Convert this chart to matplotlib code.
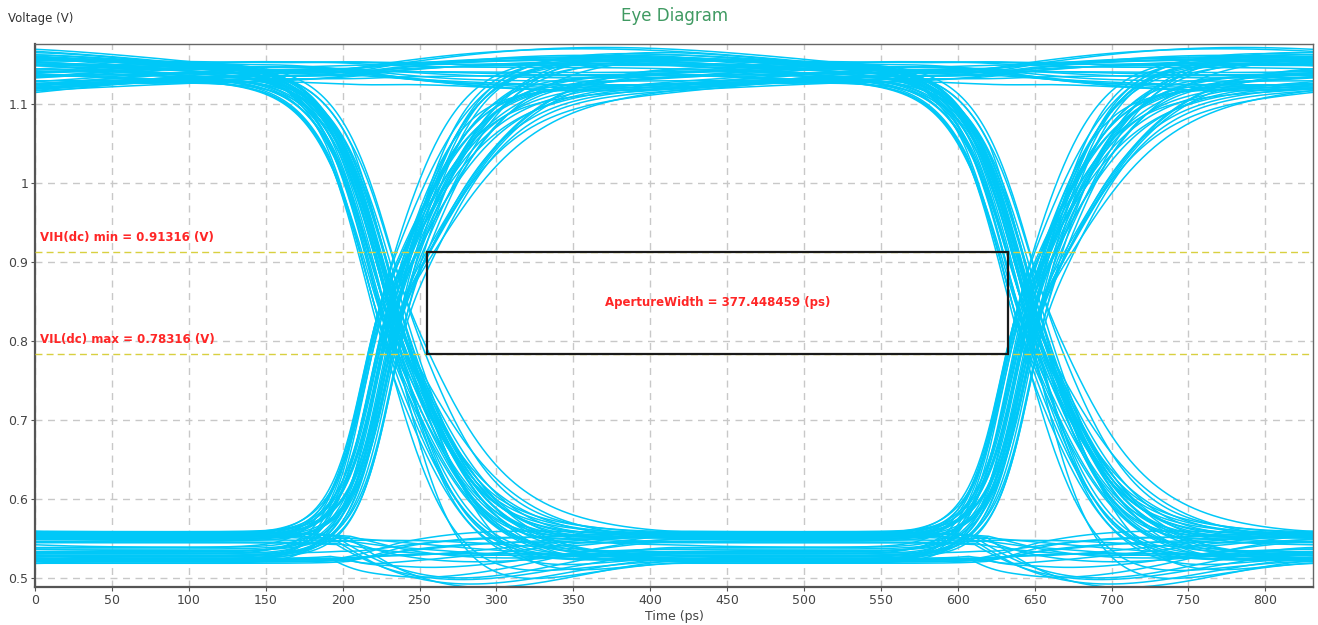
import numpy as np
import matplotlib.pyplot as plt
from matplotlib.patches import Rectangle

# constants

UI = 415.0          # ps, one bit
T_CROSS = 233.0     # first crossing inside the 2-UI window
T_SPAN = 831.0      # window shown on the x axis
V_HIGH = 1.141
V_LOW = 0.543
VIH_MIN = 0.91316
VIL_MAX = 0.78316
AP_START = 254.9
AP_WIDTH = 377.448459
TAU_RISE = 30.0     # ps, leading part of a rising edge
TAU_FALL = 42.0     # ps, leading part of a falling edge

# bit stream behind the eye, one value per bit

bits = [1, 0, 1, 1, 0, 0, 1, 0, 1, 1, 1, 0,
        1, 0, 0, 1, 1, 0, 1, 0, 0, 0, 1, 1,
        0, 1, 0, 1, 1, 0, 0, 1, 0, 1, 1, 0,
        1, 1, 0, 0, 1, 0, 0, 1, 1, 1, 0, 1,
        0, 0, 1, 1, 0, 1, 0, 1, 0, 0, 1, 1,
        0, 1, 1, 0, 0, 0, 1, 0, 1, 1, 0, 1,
        1, 0, 0, 1, 0, 1, 1, 1, 0, 0, 1, 0,
        0, 1, 1, 0, 1, 0, 0, 0, 1, 1, 0, 1,
        1, 1, 0, 1, 0, 0, 1, 1, 0, 0, 0, 1,
        0, 1, 0, 0, 1, 1, 0, 1, 1, 0, 1, 0]

# edge jitter (ps)
jitter = [3, -5, 7, -2, 0, 6, -8, 4, -3, 1, 8, -6,
          -1, 5, -7, 2, 9, -4, 0, -9, 6, -2, 3, -5,
          7, -3, 1, -8, 4, 2, -6, 8, -1, 5, -4, 0,
          -7, 6, -2, 3, -9, 1, 7, -5, 4, -3, 8, -1,
          2, -6, 5, 0, -4, 9, -2, 6, -8, 3, -1, 4,
          -5, 1, 8, -7, 2, -3, 6, 0, -6, 7, -2, 5,
          4, -7, 1, 6, -3, -9, 5, -1, 8, -4, 2, -6,
          -2, 9, -5, 3, -8, 0, 6, -3, 1, -7, 4, 7,
          5, -1, -6, 8, 2, -4, -9, 3, 7, -2, 0, -5,
          -8, 2, 6, -4, 5, -7, 1, 9, -3, 4, -6, 3]

# settling time after the crossing (ps)
tau_settle = [52, 61, 44, 70, 48, 57, 66, 42, 59, 74, 50, 63,
              46, 68, 55, 41, 72, 60, 49, 65, 53, 77, 45, 58,
              62, 43, 71, 56, 47, 67, 51, 75, 44, 64, 58, 49,
              69, 54, 42, 73, 60, 47, 66, 52, 78, 45, 57, 63,
              48, 71, 59, 44, 65, 53, 76, 50, 61, 42, 68, 55,
              57, 46, 74, 62, 51, 69, 43, 64, 55, 72, 49, 60,
              66, 45, 58, 79, 50, 62, 41, 70, 56, 47, 73, 53,
              44, 63, 76, 52, 68, 40, 59, 71, 48, 65, 54, 77,
              61, 49, 72, 43, 57, 80, 46, 66, 51, 74, 42, 60,
              55, 70, 47, 64, 78, 45, 58, 62, 41, 69, 52, 67]

# flat level offset per bit (mV), the low band is the wider one
level_mv = [4, -16, 9, -2, 14, -20, 2, 10, -10, 3, -5, 6,
            -8, 12, -18, 12, -9, 8, 9, -22, 2, -12, 0, 5,
            14, -3, -4, 6, 2, -20, 6, -2, -14, -6, 12, 10,
            2, 9, -20, 4, 8, 14, -10, 12, -2, 6, -24, 2,
            -18, 12, 6, -9, -8, 9, 4, -12, -22, 13, -6, 8,
            8, -2, -11, -20, 14, -6, 12, -16, -5, 9, 11, 6,
            -9, -22, 9, -5, -12, -13, 0, 11, 15, -4, 5, -18,
            -14, -12, -2, 12, -6, -24, 3, -9, 13, -3, 16, -9,
            -2, 8, -18, 3, 10, -21, 6, -9, 6, -11, 14, -11,
            -15, -3, 12, -19, 2, 11, 7, 3, -13, -23, -2, 10]

# ISI bump per bit (mV), deeper dips on a few low bits
bump_mv = [18, -12, 6, -22, 4, -40, -16, -6, -5, 10, -19, 8,
           -9, -30, 10, 4, 19, -8, 8, -14, 2, -36, 22, -6,
           12, -18, -22, 20, -10, -4, -42, 6, -9, -14, 3, -18,
           -20, 10, -3, -26, -17, 14, -11, -22, 16, 2, -38, 21,
           7, -16, 19, -3, -33, -18, -6, 9, 11, -24, -8, 2,
           -13, 14, -6, -40, 5, -20, 3, -9, -20, 22, 13, 11,
           25, -28, -5, -14, -12, 12, -24, 7, -2, -41, 16, -15,
           3, -11, 23, -19, 5, -35, 9, -7, -17, 8, -24, 19,
           -3, 21, -10, -20, -44, 4, 13, -12, -21, 10, -6, 24,
           -16, -23, -1, -37, 9, -15, -12, 26, -4, -27, 14, 8]


def edge_shape(x, tau_pre, tau_post):
    # fast start, slower settling after the crossing
    tau = tau_pre + (tau_post - tau_pre) * 0.5 * (1 + np.tanh(x / 15.0))
    return 0.5 * (1 + np.tanh(x / tau))


def bump_shape(t, start, stop, a, b):
    u = np.clip((t - start) / (stop - start), 0, 1)
    g = u ** a * (1 - u) ** b
    peak = (a / (a + b)) ** a * (b / (a + b)) ** b
    return g / peak


def build_waveform(t):
    n = len(bits)
    levels = [(V_HIGH if bits[k] else V_LOW) + level_mv[k] * 1e-3 for k in range(n)]
    edges = [k * UI + jitter[k] for k in range(n)]

    v = np.full_like(t, levels[0])
    for k in range(1, n):
        step = levels[k] - levels[k - 1]
        tau_pre = TAU_RISE if step > 0 else TAU_FALL
        v += step * edge_shape(t - edges[k], tau_pre, tau_settle[k])

    for k in range(n):
        if bits[k]:
            v += bump_mv[k] * 1e-3 * bump_shape(t, edges[k] - 83, edges[k] + 332, 2, 2)
        else:
            v += bump_mv[k] * 1e-3 * bump_shape(t, edges[k] - 35, edges[k] + 190, 1, 2)
    return v


t = np.arange(-300.0, len(bits) * UI + 600.0, 1.0)
wave = build_waveform(t)

fig = plt.figure(figsize=(13.18, 6.25), dpi=100)
ax = fig.add_axes([0.0266, 0.0608, 0.9696, 0.8688])

for k in range(1, len(bits) - 2):
    start = k * UI - T_CROSS
    sel = (t >= start) & (t <= start + T_SPAN)
    ax.plot(t[sel] - start, wave[sel], color='#00c8f8', lw=1.1, zorder=2)

# spec levels
ax.axhline(VIH_MIN, color='#d8d040', lw=1.0, ls=(0, (5, 3)), zorder=3)
ax.axhline(VIL_MAX, color='#d8d040', lw=1.0, ls=(0, (5, 3)), zorder=3)
ax.text(3.5, VIH_MIN + 0.0185, 'VIH(dc) min = 0.91316 (V)', color='#ff2626',
        fontsize=8.5, fontweight='semibold', va='center', ha='left', zorder=4)
ax.text(3.5, VIL_MAX + 0.0185, 'VIL(dc) max = 0.78316 (V)', color='#ff2626',
        fontsize=8.5, fontweight='semibold', va='center', ha='left', zorder=4)

# aperture box
ax.add_patch(Rectangle((AP_START, VIL_MAX), AP_WIDTH, VIH_MIN - VIL_MAX,
                       fill=False, edgecolor='#1a1a1a', lw=1.6, zorder=4))
ax.text(AP_START + AP_WIDTH / 2, (VIH_MIN + VIL_MAX) / 2 + 0.001,
        'ApertureWidth = 377.448459 (ps)', color='#ff2626', fontsize=8.5,
        fontweight='semibold', ha='center', va='center', zorder=4)

ax.set_xlim(0, T_SPAN)
ax.set_ylim(0.489, 1.176)
ax.set_xticks(np.arange(0, 801, 50))
ax.set_yticks([0.5, 0.6, 0.7, 0.8, 0.9, 1.0, 1.1])
ax.set_yticklabels(['0.5', '0.6', '0.7', '0.8', '0.9', '1', '1.1'])
ax.tick_params(labelsize=9, colors='#555555', labelcolor='#444444', length=3, pad=2)
ax.grid(True, color='#c8c8c8', ls=(0, (5, 4)), lw=1.0, zorder=0)
ax.set_axisbelow(True)

for side in ['left', 'bottom']:
    ax.spines[side].set_color('#555555')
    ax.spines[side].set_linewidth(1.6)
for side in ['top', 'right']:
    ax.spines[side].set_color('#666666')
    ax.spines[side].set_linewidth(1.0)

ax.set_xlabel('Time (ps)', fontsize=9, color='#444444', labelpad=2)
fig.text(0.006, 0.971, 'Voltage (V)', fontsize=8.5, color='#333333', ha='left', va='center')
fig.text(0.512, 0.975, 'Eye Diagram', fontsize=12, color='#3f9a62', ha='center', va='center')

fig.savefig('out.png', dpi=100)
